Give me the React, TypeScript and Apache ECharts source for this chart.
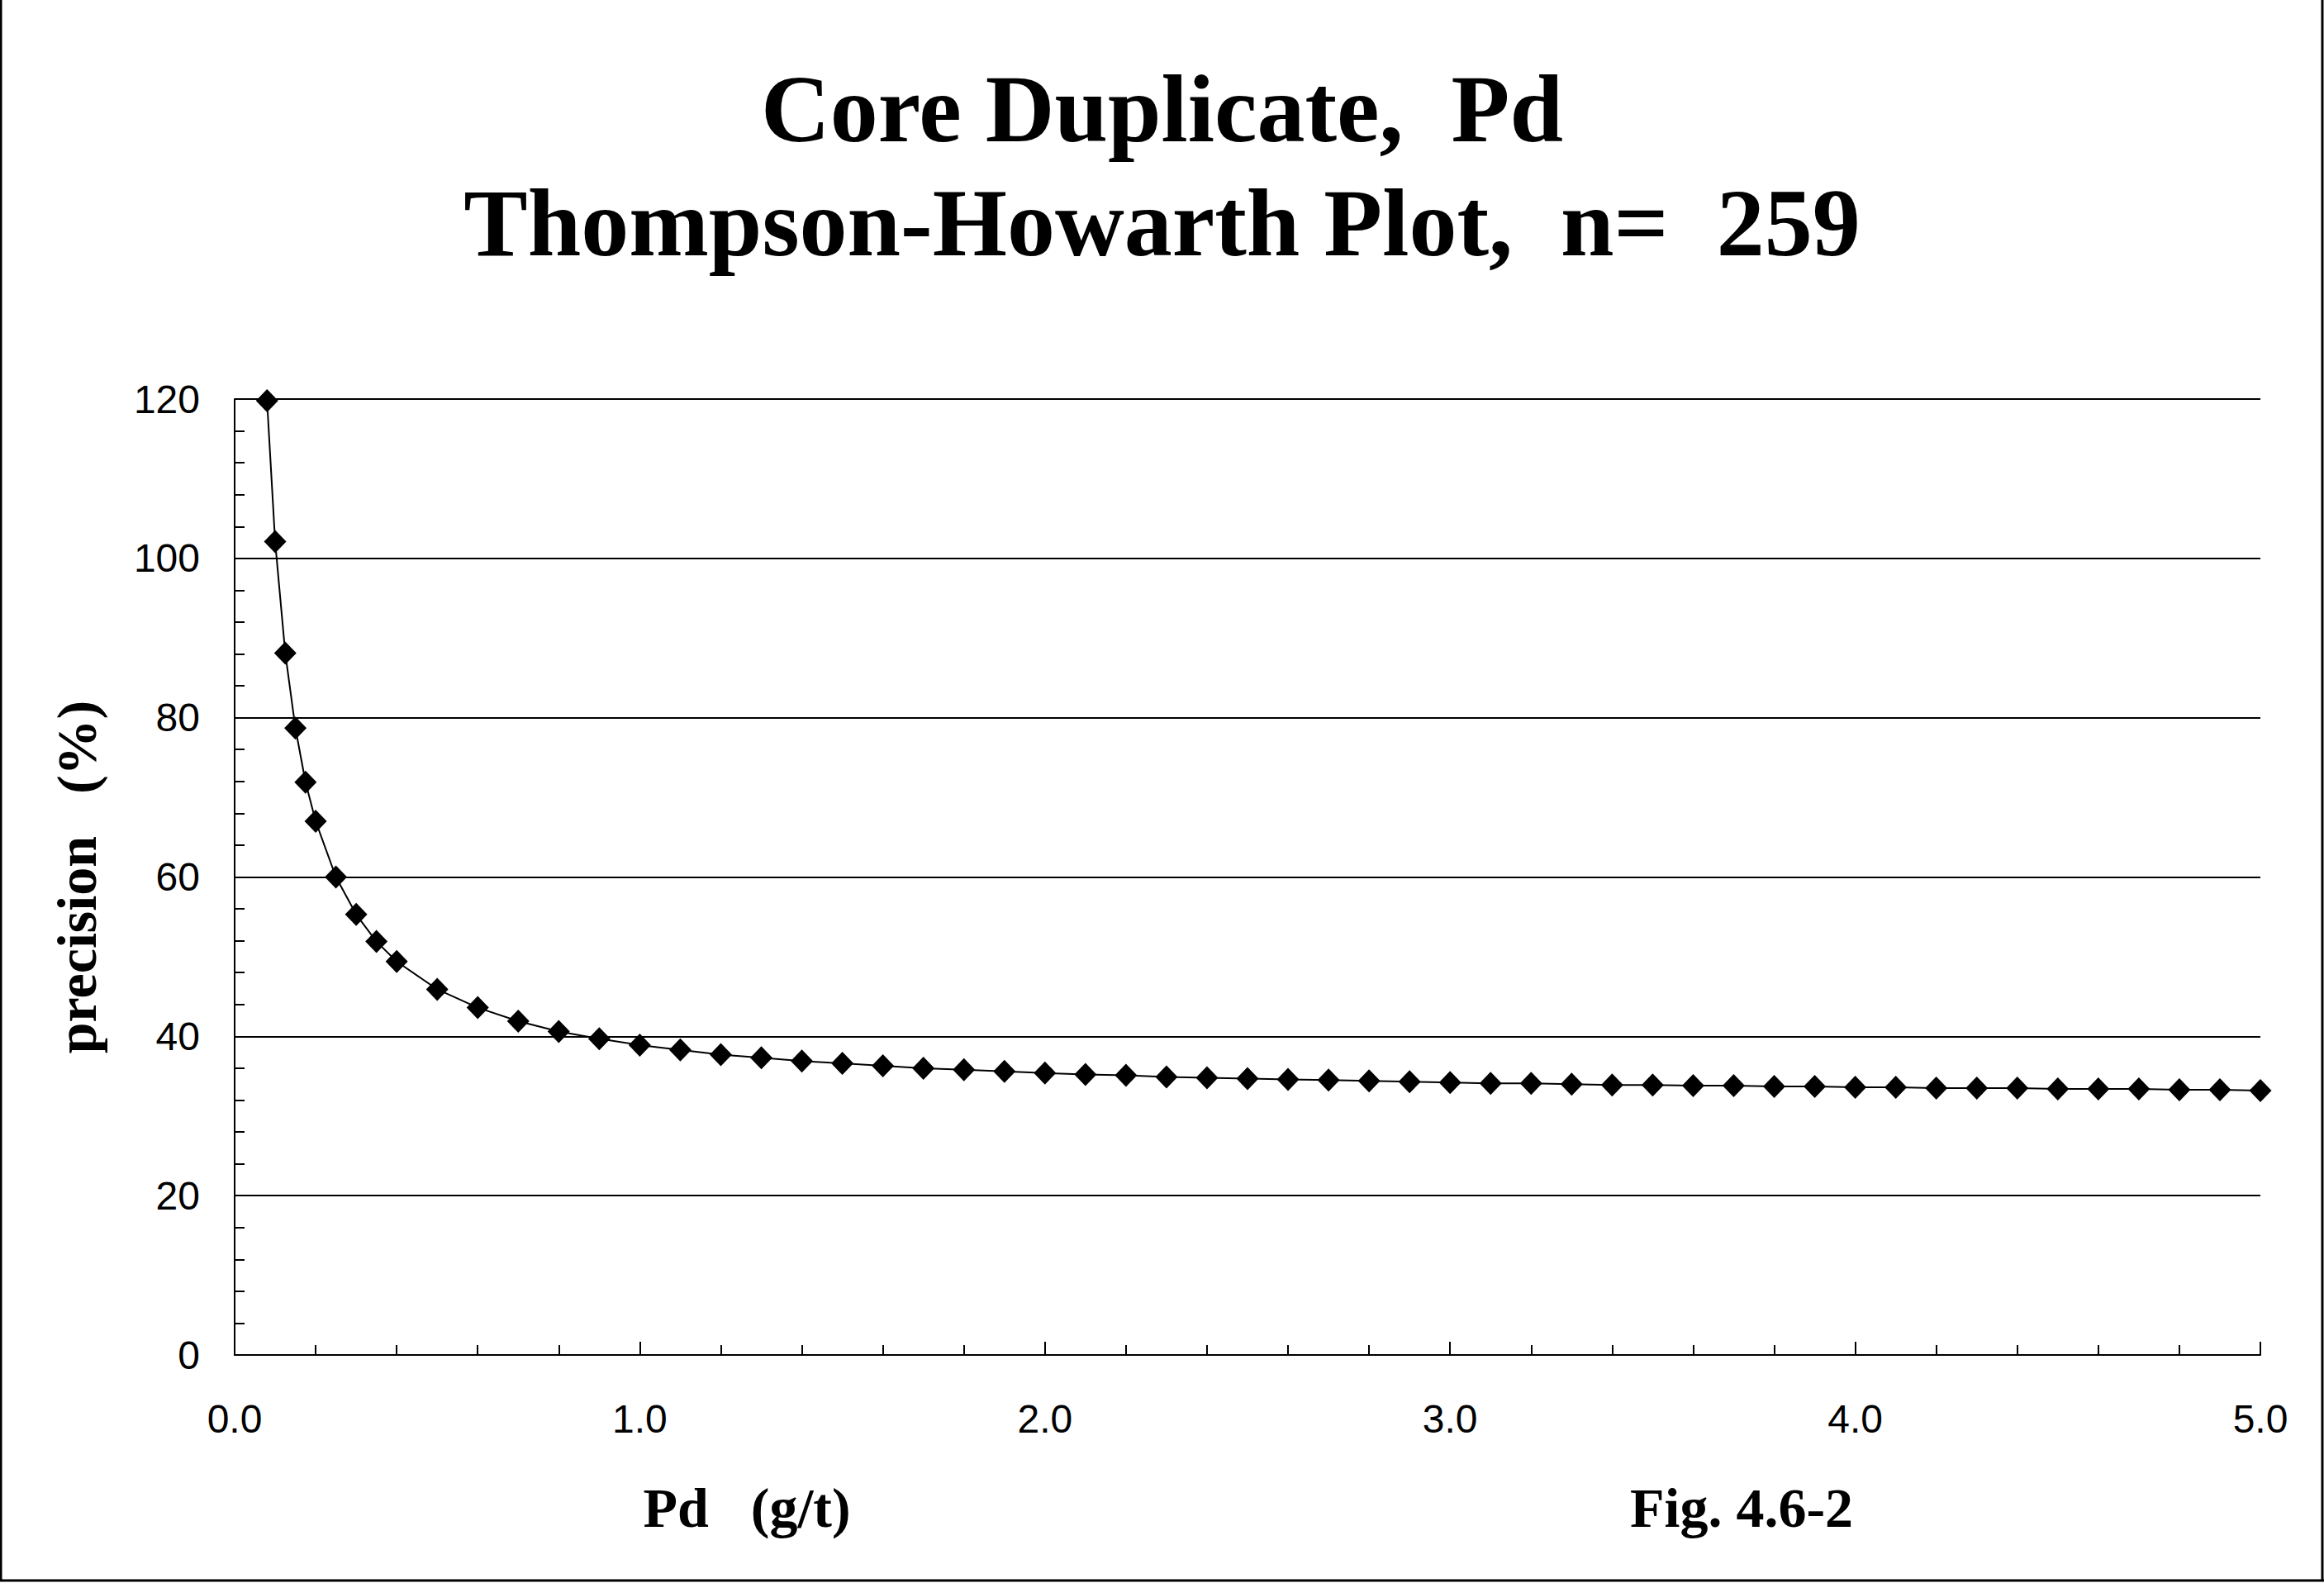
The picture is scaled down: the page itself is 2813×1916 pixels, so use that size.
import React, { useEffect, useRef } from "react";
import * as echarts from "echarts";

const titleLines = ["Core Duplicate,  Pd", "Thompson-Howarth Plot,  n=  259"];
const xAxisTitle = "Pd   (g/t)";
const yAxisTitle = "precision   (%)";
const figLabel = "Fig. 4.6-2";

const pdValues = [
  0.08, 0.1, 0.125, 0.15, 0.175, 0.2, 0.25, 0.3, 0.35, 0.4, 0.5, 0.6, 0.7, 0.8, 0.9,
  1.0, 1.1, 1.2, 1.3, 1.4, 1.5, 1.6, 1.7, 1.8, 1.9,
  2.0, 2.1, 2.2, 2.3, 2.4, 2.5, 2.6, 2.7, 2.8, 2.9,
  3.0, 3.1, 3.2, 3.3, 3.4, 3.5, 3.6, 3.7, 3.8, 3.9,
  4.0, 4.1, 4.2, 4.3, 4.4, 4.5, 4.6, 4.7, 4.8, 4.9, 5.0,
];
const precisionValues = [
  119.8, 102.1, 88.1, 78.7, 71.9, 67.0, 60.0, 55.3, 51.9, 49.4, 45.9, 43.6, 41.9, 40.6, 39.7,
  38.9, 38.3, 37.7, 37.3, 36.9, 36.6, 36.3, 36.0, 35.8, 35.6,
  35.4, 35.2, 35.1, 34.9, 34.8, 34.7, 34.6, 34.5, 34.4, 34.3,
  34.2, 34.1, 34.1, 34.0, 33.9, 33.9, 33.8, 33.8, 33.7, 33.7,
  33.6, 33.6, 33.5, 33.5, 33.5, 33.4, 33.4, 33.4, 33.3, 33.3, 33.2,
];

const W = 2813;
const H = 1916;
const SERIF = "'Liberation Serif', 'Times New Roman', serif";
const SANS = "'Liberation Sans', Arial, sans-serif";

export default function App() {
  const ref = useRef<HTMLDivElement>(null);
  useEffect(() => {
    if (!ref.current) return;
    const chart = echarts.init(ref.current, null, { renderer: "svg" });
    const data = pdValues.map((x, i) => [x, precisionValues[i]]);
    chart.setOption({
      animation: false,
      backgroundColor: "#ffffff",
      title: {
        text: titleLines.join("\n"),
        left: "center",
        top: 58,
        textStyle: {
          fontFamily: SERIF,
          fontWeight: "bold",
          fontSize: 116,
          lineHeight: 138,
          color: "#000",
        },
      },
      grid: { left: 284, top: 483, right: 77, bottom: 276, containLabel: false },
      xAxis: {
        type: "value",
        min: 0,
        max: 5,
        interval: 1,
        axisLine: { show: true, lineStyle: { color: "#000", width: 2 } },
        axisTick: { show: true, inside: true, length: 16, lineStyle: { color: "#000", width: 2 } },
        minorTick: { show: true, splitNumber: 5, length: 12, lineStyle: { color: "#000", width: 2 } },
        splitLine: { show: false },
        axisLabel: {
          fontFamily: SANS,
          fontSize: 48,
          color: "#000",
          margin: 53,
          formatter: (v: number) => v.toFixed(1),
        },
      },
      yAxis: {
        type: "value",
        min: 0,
        max: 120,
        interval: 20,
        name: yAxisTitle,
        nameLocation: "middle",
        nameRotate: 90,
        nameGap: 191,
        nameTextStyle: { fontFamily: SERIF, fontWeight: "bold", fontSize: 68, color: "#000", verticalAlign: "middle" },
        axisLine: { show: true, lineStyle: { color: "#000", width: 2 } },
        axisTick: { show: true, inside: true, length: 12, lineStyle: { color: "#000", width: 2 } },
        minorTick: { show: true, splitNumber: 5, length: 12, lineStyle: { color: "#000", width: 2 } },
        splitLine: { show: true, lineStyle: { color: "#000", width: 2 } },
        axisLabel: { fontFamily: SANS, fontSize: 48, color: "#000", margin: 42 },
      },
      graphic: [
        {
          type: "text",
          x: 904,
          y: 1825,
          style: {
            text: xAxisTitle,
            font: `bold 68px ${SERIF}`,
            fill: "#000",
            textAlign: "center",
            textVerticalAlign: "middle",
          },
        },
        {
          type: "text",
          x: 2108,
          y: 1825,
          style: {
            text: figLabel,
            font: `bold 68px ${SERIF}`,
            fill: "#000",
            textAlign: "center",
            textVerticalAlign: "middle",
          },
        },
        { type: "line", shape: { x1: 1, y1: 0, x2: 1, y2: 1913 }, style: { stroke: "#000", lineWidth: 3 } },
        { type: "line", shape: { x1: 2811, y1: 0, x2: 2811, y2: 1913 }, style: { stroke: "#000", lineWidth: 3 } },
        { type: "line", shape: { x1: 0, y1: 1913, x2: 2813, y2: 1913 }, style: { stroke: "#000", lineWidth: 3 } },
      ],
      series: [
        {
          type: "line",
          data,
          symbol: "diamond",
          symbolSize: [27, 28],
          showAllSymbol: true,
          lineStyle: { color: "#000", width: 2 },
          itemStyle: { color: "#000" },
          z: 5,
        },
      ],
    });
    return () => chart.dispose();
  }, []);
  return (
    <div
      ref={ref}
      style={{ position: "fixed", left: 0, top: 0, width: W, height: H, background: "#fff" }}
    />
  );
}
